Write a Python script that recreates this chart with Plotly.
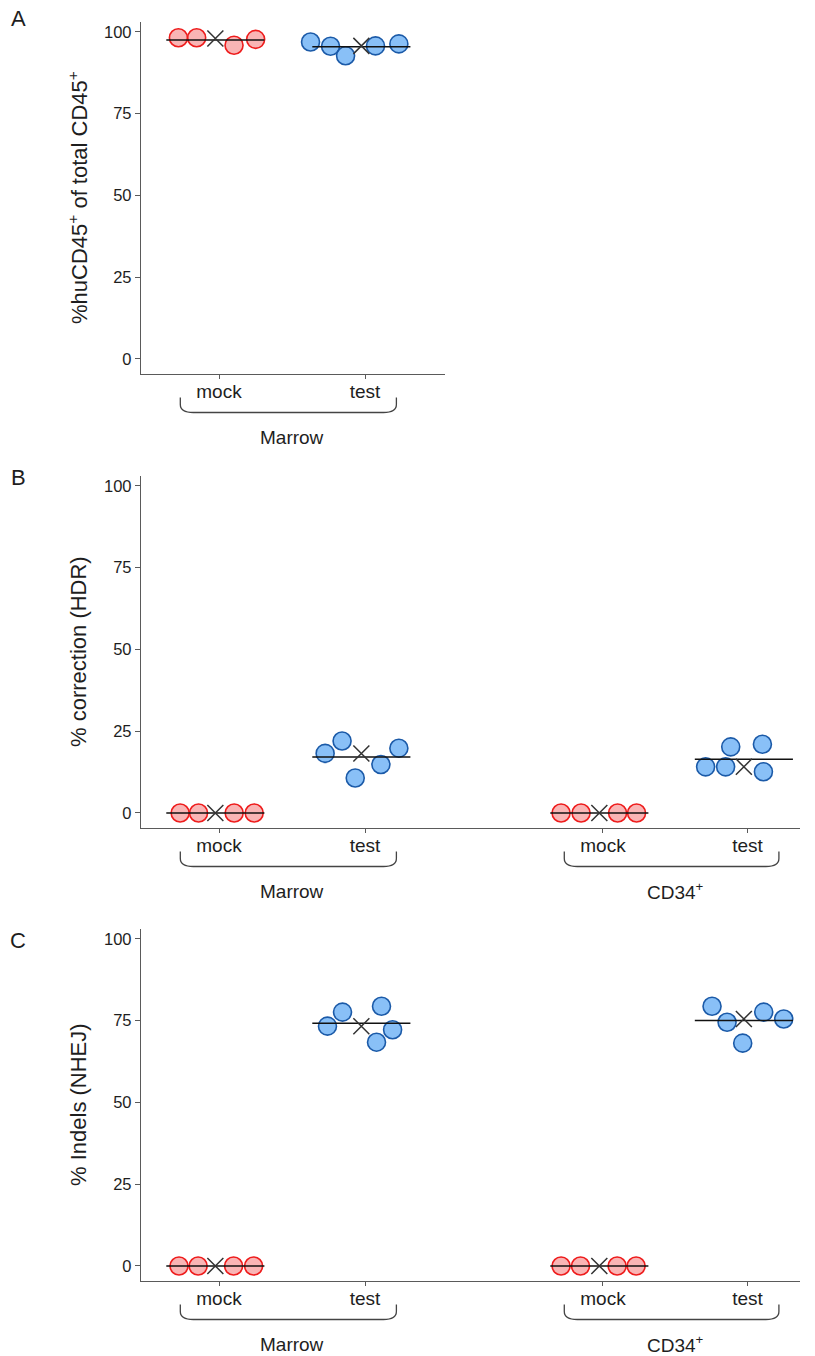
import numpy as np
import plotly.graph_objects as go

W, H = 815, 1356
FONT = "Liberation Sans, Arial, sans-serif"

# ---- data -------------------------------------------------------------
# x position of each condition within its tissue group
marrow_pos = {"mock": 1.0, "test": 2.0}
cd34_pos = {"mock": 3.63, "test": 4.62}
y_ticks = [0, 25, 50, 75, 100]

# A: %huCD45+ of total CD45+ (marrow only)
a_marrow_mock = [98.2, 98.2, 95.9, 97.7]
a_marrow_test = [96.9, 95.6, 92.7, 95.7, 96.3]

# B: % correction (HDR)
b_marrow_mock = [0.0, 0.0, 0.0, 0.0]
b_marrow_test = [18.2, 22.0, 10.7, 14.8, 19.8]
b_cd34_mock = [0.0, 0.0, 0.0, 0.0]
b_cd34_test = [14.1, 14.1, 20.2, 21.0, 12.6]

# C: % indels (NHEJ)
c_marrow_mock = [0.0, 0.0, 0.0, 0.0]
c_marrow_test = [73.3, 77.6, 79.4, 72.2, 68.4]
c_cd34_mock = [0.0, 0.0, 0.0, 0.0]
c_cd34_test = [79.4, 74.5, 77.6, 75.5, 68.1]

# horizontal swarm offsets of the individual points
spread_a_mock = [-0.253, -0.128, 0.128, 0.276]
spread_a_test = [-0.348, -0.211, -0.108, 0.097, 0.257]
spread_b_marrow_mock = [-0.241, -0.115, 0.129, 0.266]
spread_b_marrow_test = [-0.248, -0.132, -0.042, 0.134, 0.257]
spread_b_cd34_mock = [-0.262, -0.125, 0.125, 0.255]
spread_b_cd34_test = [-0.262, -0.125, -0.090, 0.127, 0.134]
spread_c_marrow_mock = [-0.249, -0.118, 0.125, 0.262]
spread_c_marrow_test = [-0.232, -0.129, 0.138, 0.214, 0.104]
spread_c_cd34_mock = [-0.262, -0.129, 0.122, 0.252]
spread_c_cd34_test = [-0.218, -0.115, 0.136, 0.273, -0.008]

# ---- styling ----------------------------------------------------------
MOCK_FILL, MOCK_EDGE = "rgba(238,50,50,0.36)", "#ee1c1c"
TEST_FILL, TEST_EDGE = "rgba(40,140,240,0.55)", "#1b5aa8"
AXIS_COL = "#5a5a5a"
TEXT_COL = "#1e1e1e"
PX_PER_UNIT = 146.0
SUMMARY_SHIFT = -0.025
MEAN_HALF = 0.336

fig = go.Figure()


def py(p):
    """pixel row -> paper y"""
    return 1 - p / H


def add_group(ax, pos, vals, spread, fill, edge):
    xa, ya = ax
    c = pos + SUMMARY_SHIFT
    xs = [c + s for s in spread]
    fig.add_trace(go.Scatter(
        x=xs, y=vals, mode="markers", xaxis=xa, yaxis=ya,
        marker=dict(size=18, color=fill, line=dict(color=edge, width=1.6)),
        showlegend=False, hoverinfo="skip"))
    m = float(np.mean(vals))
    fig.add_trace(go.Scatter(
        x=[c - MEAN_HALF, c + MEAN_HALF], y=[m, m], mode="lines",
        xaxis=xa, yaxis=ya, line=dict(color="#111111", width=1.5),
        showlegend=False, hoverinfo="skip"))
    med = float(np.median(vals))
    fig.add_trace(go.Scatter(
        x=[c], y=[med], mode="markers", xaxis=xa, yaxis=ya,
        marker=dict(symbol="x-thin", size=16,
                    line=dict(color="#333333", width=1.5)),
        showlegend=False, hoverinfo="skip"))


def add_brace(xref, group, label, axis_px):
    x0 = group["mock"] + SUMMARY_SHIFT - 0.24
    x1 = group["test"] + SUMMARY_SHIFT + 0.24
    rx = 13 / PX_PER_UNIT
    top, bot, ry = axis_px + 23.5, axis_px + 38.5, 8
    path = (f"M {x0},{py(top)} L {x0},{py(bot - ry)} "
            f"Q {x0},{py(bot)} {x0 + rx},{py(bot)} "
            f"L {x1 - rx},{py(bot)} "
            f"Q {x1},{py(bot)} {x1},{py(bot - ry)} L {x1},{py(top)}")
    fig.add_shape(type="path", path=path, xref=xref, yref="paper",
                  line=dict(color="#444444", width=1.3))
    fig.add_annotation(x=(group["mock"] + group["test"]) / 2, y=py(axis_px + 63),
                       xref=xref, yref="paper", text=label, showarrow=False,
                       font=dict(family=FONT, size=19, color=TEXT_COL),
                       xanchor="center", yanchor="middle")


# panel geometry in pixels: (left, right, top, bottom)
panels = [
    ("x", "y", 141, 445, 22, 374),
    ("x2", "y2", 141, 800, 476, 828),
    ("x3", "y3", 141, 800, 929, 1281),
]

layout = {}
for i, (xa, ya, l, r, t, b) in enumerate(panels):
    sx = "" if i == 0 else str(i + 1)
    x_lo = 1 - (219 - l) / PX_PER_UNIT
    x_hi = x_lo + (r - l) / PX_PER_UNIT
    if i == 0:
        tv = [marrow_pos["mock"], marrow_pos["test"]]
        tt = ["mock", "test"]
    else:
        tv = [marrow_pos["mock"], marrow_pos["test"], cd34_pos["mock"], cd34_pos["test"]]
        tt = ["mock", "test", "mock", "test"]
    layout["xaxis" + sx] = dict(
        domain=[l / W, r / W], range=[x_lo, x_hi], anchor=ya,
        showline=True, linecolor=AXIS_COL, linewidth=1.3, showgrid=False,
        zeroline=False, tickmode="array", tickvals=tv, ticktext=tt,
        ticks="outside", ticklen=4, tickcolor=AXIS_COL, tickwidth=1.2,
        ticklabelstandoff=-4,
        tickfont=dict(family=FONT, size=19, color=TEXT_COL), fixedrange=True)
    layout["yaxis" + sx] = dict(
        domain=[py(b), py(t)], range=[-4.6, 103], anchor=xa,
        showline=True, linecolor=AXIS_COL, linewidth=1.3, showgrid=False,
        zeroline=False, tickmode="array", tickvals=y_ticks,
        ticks="outside", ticklen=5, tickcolor=AXIS_COL, tickwidth=1.2,
        tickfont=dict(family=FONT, size=16.5, color=TEXT_COL), fixedrange=True)

fig.update_layout(**layout)

# panel A
add_group(("x", "y"), marrow_pos["mock"], a_marrow_mock, spread_a_mock, MOCK_FILL, MOCK_EDGE)
add_group(("x", "y"), marrow_pos["test"], a_marrow_test, spread_a_test, TEST_FILL, TEST_EDGE)
# panel B
add_group(("x2", "y2"), marrow_pos["mock"], b_marrow_mock, spread_b_marrow_mock, MOCK_FILL, MOCK_EDGE)
add_group(("x2", "y2"), marrow_pos["test"], b_marrow_test, spread_b_marrow_test, TEST_FILL, TEST_EDGE)
add_group(("x2", "y2"), cd34_pos["mock"], b_cd34_mock, spread_b_cd34_mock, MOCK_FILL, MOCK_EDGE)
add_group(("x2", "y2"), cd34_pos["test"], b_cd34_test, spread_b_cd34_test, TEST_FILL, TEST_EDGE)
# panel C
add_group(("x3", "y3"), marrow_pos["mock"], c_marrow_mock, spread_c_marrow_mock, MOCK_FILL, MOCK_EDGE)
add_group(("x3", "y3"), marrow_pos["test"], c_marrow_test, spread_c_marrow_test, TEST_FILL, TEST_EDGE)
add_group(("x3", "y3"), cd34_pos["mock"], c_cd34_mock, spread_c_cd34_mock, MOCK_FILL, MOCK_EDGE)
add_group(("x3", "y3"), cd34_pos["test"], c_cd34_test, spread_c_cd34_test, TEST_FILL, TEST_EDGE)

# tissue braces and labels
add_brace("x", marrow_pos, "Marrow", 374)
add_brace("x2", marrow_pos, "Marrow", 828)
add_brace("x2", cd34_pos, "CD34<sup>+</sup>", 828)
add_brace("x3", marrow_pos, "Marrow", 1281)
add_brace("x3", cd34_pos, "CD34<sup>+</sup>", 1281)

# y-axis titles
titles = [
    ("%huCD45<sup>+</sup> of total CD45<sup>+</sup>", 198),
    ("% correction (HDR)", 652),
    ("% Indels (NHEJ)", 1105),
]
for text, cy in titles:
    fig.add_annotation(x=78 / W, y=py(cy), xref="paper", yref="paper",
                       text=text, textangle=-90, showarrow=False,
                       font=dict(family=FONT, size=22, color=TEXT_COL),
                       xanchor="center", yanchor="middle")

# panel letters
for letter, cy in [("A", 18), ("B", 477), ("C", 940)]:
    fig.add_annotation(x=18 / W, y=py(cy), xref="paper", yref="paper",
                       text=letter, showarrow=False,
                       font=dict(family=FONT, size=22, color=TEXT_COL),
                       xanchor="center", yanchor="middle")

fig.update_layout(
    width=W, height=H, margin=dict(l=0, r=0, t=0, b=0),
    paper_bgcolor="white", plot_bgcolor="white", showlegend=False,
)

fig.write_html("out.html", config={"displayModeBar": False})
